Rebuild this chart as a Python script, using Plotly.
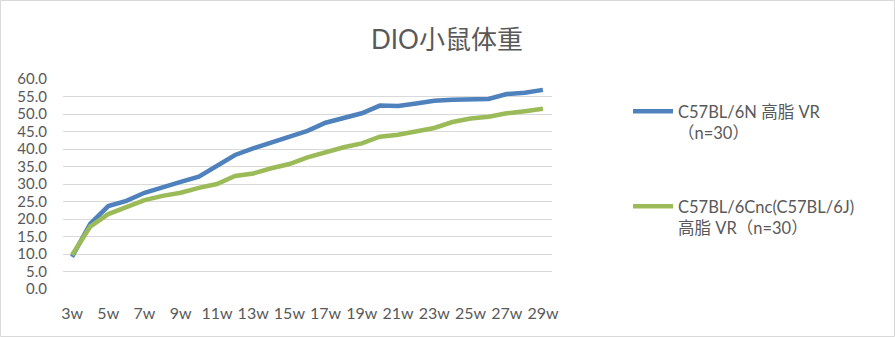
import plotly.graph_objects as go

weeks = [f"{w}w" for w in range(3, 30)]
tick_labels = [f"{w}w" for w in range(3, 30, 2)]
series_n_name = "C57BL/6N 高脂 VR<br>（n=30）"
series_n = [9.2, 18.6, 23.7, 25.2, 27.5, 29.2, 30.6, 32.1, 35.1, 38.3, 40.2, 41.8, 43.3,
            45.2, 47.5, 49.0, 50.2, 52.4, 52.3, 53.0, 53.8, 54.1, 54.3, 54.3, 55.7, 56.1, 56.9]
series_j_name = "C57BL/6Cnc(C57BL/6J)<br>高脂 VR（n=30）"
series_j = [9.7, 17.8, 21.4, 23.5, 25.4, 26.6, 27.5, 28.9, 30.0, 32.3, 33.0, 34.5, 35.7,
            37.6, 39.1, 40.5, 41.6, 43.5, 44.1, 45.2, 46.0, 47.7, 48.7, 49.2, 50.2, 50.8, 51.5]
y_ticks = [i * 5 for i in range(13)]

FONT = "Lato, 'Noto Sans CJK SC', sans-serif"
GREY = "#595959"

fig = go.Figure()
fig.add_trace(go.Scatter(x=weeks, y=series_n, mode="lines", name=series_n_name,
                         line=dict(color="#4F81BD", width=4.5), legendgroup="a"))
fig.add_trace(go.Scatter(x=weeks, y=series_j, mode="lines", name=series_j_name,
                         line=dict(color="#9BBB59", width=4.5), legendgroup="b"))

L, R, T, B = 63, 343, 79, 48
W, H = 895, 337
pw, ph = W - L - R, H - T - B

fig.update_layout(
    width=W, height=H,
    margin=dict(l=L, r=R, t=T, b=B),
    paper_bgcolor="white", plot_bgcolor="white",
    font=dict(family=FONT, color=GREY, size=14),
    title=dict(text="DIO小鼠体重", x=447 / W, xanchor="center", y=1 - 40 / H, yanchor="middle",
               font=dict(size=26, color=GREY, family=FONT)),
    xaxis=dict(type="category", categoryorder="array", categoryarray=weeks,
               tickmode="array", tickvals=tick_labels, ticktext=tick_labels,
               range=[-0.5, len(weeks) - 0.5], showgrid=False, showline=False, ticks="",
               ticklabelstandoff=13,
               tickfont=dict(size=16, color=GREY), zeroline=False),
    yaxis=dict(range=[0, 60], tickvals=y_ticks, ticktext=[f"{v:.1f}" for v in y_ticks],
               showgrid=True, gridcolor="#D9D9D9", gridwidth=1, zeroline=False,
               showline=False, ticks="", ticklabelstandoff=15,
               tickfont=dict(size=15, color=GREY)),
    legend=dict(x=(628 - L) / pw, xanchor="left", y=1 - (94 - T) / ph, yanchor="top",
                traceorder="grouped", tracegroupgap=49, valign="top",
                font=dict(size=16.5, color=GREY, family=FONT),
                bgcolor="rgba(0,0,0,0)", itemwidth=40),
    showlegend=True,
)

fig.add_shape(type="rect", xref="paper", yref="paper",
              x0=(0.5 - L) / pw, x1=(W - 0.5 - L) / pw,
              y0=-(B - 0.5) / ph, y1=1 + (T - 0.5) / ph,
              line=dict(color="#D9D9D9", width=1), fillcolor="rgba(0,0,0,0)", layer="below")

fig.write_html("out.html")
